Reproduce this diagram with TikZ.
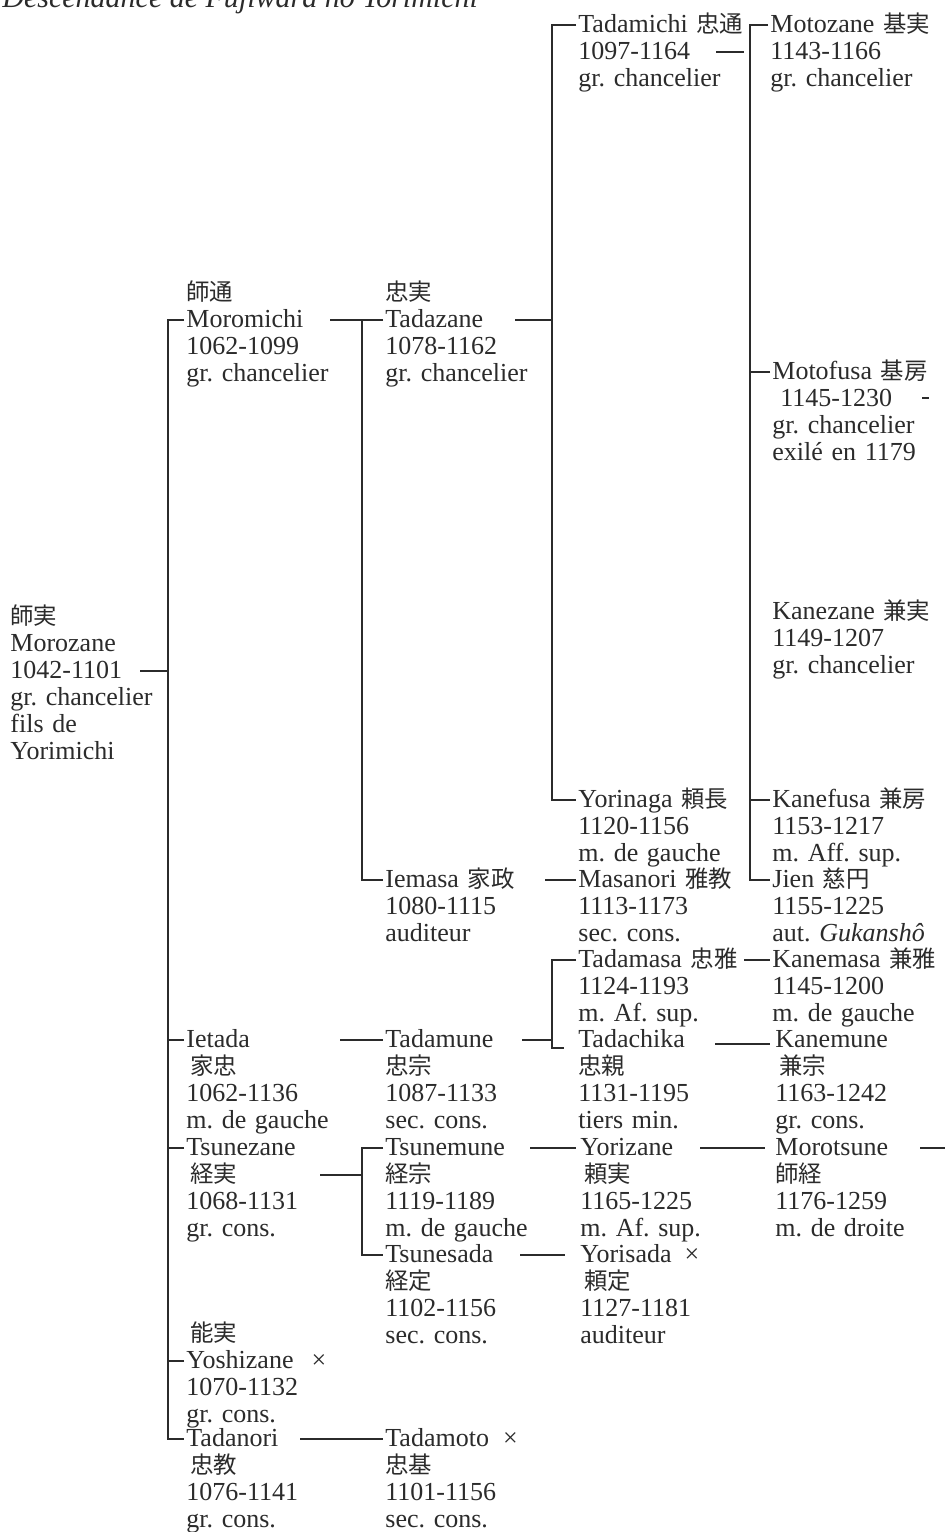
\documentclass[tikz,border=0pt]{standalone}
\usepackage{fontspec}
\setmainfont{Liberation Serif}
\newfontfamily\jpfont[Scale=0.9]{Noto Sans CJK JP}
\newcommand{\kj}[1]{{\jpfont #1}}
\usetikzlibrary{positioning,calc}
\definecolor{ink}{HTML}{2B2B2B}

\begin{document}
\begin{tikzpicture}[
    x=0.5pt, y=-0.5pt,
    person/.style={anchor=base west, inner sep=0pt, text width=100pt,
                   align=left, text=ink, font=\fontsize{13}{13.5}\selectfont\frenchspacing},
    heading/.style={anchor=base west, inner sep=0pt, text=ink,
                    font=\fontsize{15}{18}\selectfont\itshape},
    line/.style={draw, ink, line width=0.7pt}
]
    \fill[white] (0,0) rectangle (945,1532);
    \useasboundingbox (0,0) rectangle (945,1532);

    \node [heading] (title) at (2,7) {Descendance de Fujiwara no Yorimichi};

    \node [person] (morozane)  at (10,624)   {\kj{師実}\\Morozane\\1042-1101\\gr. chancelier\\fils de\\Yorimichi};

    \node [person] (moromichi) at (186,300)  {\kj{師通}\\Moromichi\\1062-1099\\gr. chancelier};
    \node [person] (ietada)    at (186,1047) {Ietada\\\hspace*{2pt}\kj{家忠}\\1062-1136\\m. de gauche};
    \node [person] (tsunezane) at (186,1155) {Tsunezane\\\hspace*{2pt}\kj{経実}\\1068-1131\\gr. cons.};
    \node [person] (yoshizane) at (186,1341) {\hspace*{2pt}\kj{能実}\\Yoshizane\hspace{9pt}×\\1070-1132\\gr. cons.};
    \node [person] (tadanori)  at (186,1446) {Tadanori\\\hspace*{2pt}\kj{忠教}\\1076-1141\\gr. cons.};

    \node [person] (tadazane)  at (385,300)  {\kj{忠実}\\Tadazane\\1078-1162\\gr. chancelier};
    \node [person] (iemasa)    at (385,887)  {Iemasa \kj{家政}\\1080-1115\\auditeur};
    \node [person] (tadamune)  at (385,1047) {Tadamune\\\kj{忠宗}\\1087-1133\\sec. cons.};
    \node [person] (tsunemune) at (385,1155) {Tsunemune\\\kj{経宗}\\1119-1189\\m. de gauche};
    \node [person] (tsunesada) at (385,1262) {Tsunesada\\\kj{経定}\\1102-1156\\sec. cons.};
    \node [person] (tadamoto)  at (385,1446) {Tadamoto\hspace{7pt}×\\\kj{忠基}\\1101-1156\\sec. cons.};

    \node [person] (tadamichi) at (578,32)   {Tadamichi \kj{忠通}\\1097-1164\\gr. chancelier};
    \node [person] (yorinaga)  at (578,807)  {Yorinaga \kj{頼長}\\1120-1156\\m. de gauche};
    \node [person] (masanori)  at (578,887)  {Masanori \kj{雅教}\\1113-1173\\sec. cons.};
    \node [person] (tadamasa)  at (578,967)  {Tadamasa \kj{忠雅}\\1124-1193\\m. Af. sup.};
    \node [person] (tadachika) at (578,1047) {Tadachika\\\kj{忠親}\\1131-1195\\tiers min.};
    \node [person] (yorizane)  at (580,1155) {Yorizane\\\hspace*{2pt}\kj{頼実}\\1165-1225\\m. Af. sup.};
    \node [person] (yorisada)  at (580,1262) {Yorisada \,×\\\hspace*{2pt}\kj{頼定}\\1127-1181\\auditeur};

    \node [person] (motozane)  at (770,32)   {Motozane \kj{基実}\\1143-1166\\gr. chancelier};
    \node [person] (motofusa)  at (772,379)  {Motofusa \kj{基房}\\\hspace*{4pt}1145-1230\\gr. chancelier\\exilé en 1179};
    \node [person] (kanezane)  at (772,619)  {Kanezane \kj{兼実}\\1149-1207\\gr. chancelier};
    \node [person] (kanefusa)  at (772,807)  {Kanefusa \kj{兼房}\\1153-1217\\m. Aff. sup.};
    \node [person] (jien)      at (772,887)  {Jien \kj{慈円}\\1155-1225\\aut. \textit{Gukanshô}};
    \node [person] (kanemasa)  at (772,967)  {Kanemasa \kj{兼雅}\\1145-1200\\m. de gauche};
    \node [person] (kanemune)  at (775,1047) {Kanemune\\\hspace*{2pt}\kj{兼宗}\\1163-1242\\gr. cons.};
    \node [person] (morotsune) at (775,1155) {Morotsune\\\kj{師経}\\1176-1259\\m. de droite};

    \coordinate (offpage) at (960,1148);

    \draw [line] ([shift={(-2,20)}]moromichi.base west) -- ++(-16,0) coordinate (b1) |- ([shift={(-2,-7)}]tadanori.base west);
    \draw [line] ([shift={(-2,-7)}]ietada.base west) -- ++(-16,0);
    \draw [line] ([shift={(-2,-7)}]tsunezane.base west) -- ++(-16,0);
    \draw [line] ([shift={(-2,20)}]yoshizane.base west) -- ++(-16,0);
    \draw [line] ([shift={(130,47)}]morozane.base west) coordinate (p0) -- (p0 -| b1);

    \draw [line] ([shift={(-2,20)}]tadazane.base west) -- ++(-21,0) coordinate (b2) |- ([shift={(-2,-7)}]iemasa.base west);
    \draw [line] ([shift={(144,20)}]moromichi.base west) coordinate (p1) -- (p1 -| b2);

    \draw [line] ([shift={(-2,-7)}]tadamichi.base west) -- ++(-24,0) coordinate (b3) |- ([shift={(-2,-7)}]yorinaga.base west);
    \draw [line] ([shift={(130,20)}]tadazane.base west) coordinate (p2) -- (p2 -| b3);

    \draw [line] ([shift={(-2,-7)}]motozane.base west) -- ++(-18,0) coordinate (b4) |- ([shift={(-2,-7)}]jien.base west);
    \draw [line] ([shift={(-2,-7)}]motofusa.base west) -- ++(-20,0);
    \draw [line] ([shift={(-2,-7)}]kanefusa.base west) -- ++(-20,0);
    \draw [line] ([shift={(138,20)}]tadamichi.base west) -- ++(28,0);
    \draw [line] ([shift={(150,19)}]motofusa.base west) -- ++(7,0);

    \draw [line] ([shift={(160,-7)}]iemasa.base west) -- ([shift={(-2,-7)}]masanori.base west);
    \draw [line] ([shift={(154,-7)}]ietada.base west) -- ([shift={(-2,-7)}]tadamune.base west);

    \draw [line] ([shift={(-2,-7)}]tadamasa.base west) -- ++(-24,0) coordinate (b5) |- ([shift={(-14,1)}]tadachika.base west);
    \draw [line] ([shift={(137,-7)}]tadamune.base west) coordinate (p3) -- (p3 -| b5);
    \draw [line] ([shift={(166,-7)}]tadamasa.base west) -- ([shift={(-2,-7)}]kanemasa.base west);
    \draw [line] ([shift={(137,-3)}]tadachika.base west) -- ([shift={(-5,-3)}]kanemune.base west);

    \draw [line] ([shift={(-2,-7)}]tsunemune.base west) -- ++(-21,0) coordinate (b6) |- ([shift={(-2,-7)}]tsunesada.base west);
    \draw [line] ([shift={(134,20)}]tsunezane.base west) coordinate (p4) -- (p4 -| b6);
    \draw [line] ([shift={(145,-7)}]tsunemune.base west) -- ([shift={(-4,-7)}]yorizane.base west);
    \draw [line] ([shift={(135,-7)}]tsunesada.base west) -- ([shift={(-15,-7)}]yorisada.base west);
    \draw [line] ([shift={(120,-7)}]yorizane.base west) -- ([shift={(-10,-7)}]morotsune.base west);
    \draw [line] ([shift={(145,-7)}]morotsune.base west) coordinate (p5) -- (p5 -| offpage);

    \draw [line] ([shift={(114,-7)}]tadanori.base west) -- ([shift={(-2,-7)}]tadamoto.base west);
\end{tikzpicture}
\end{document}
